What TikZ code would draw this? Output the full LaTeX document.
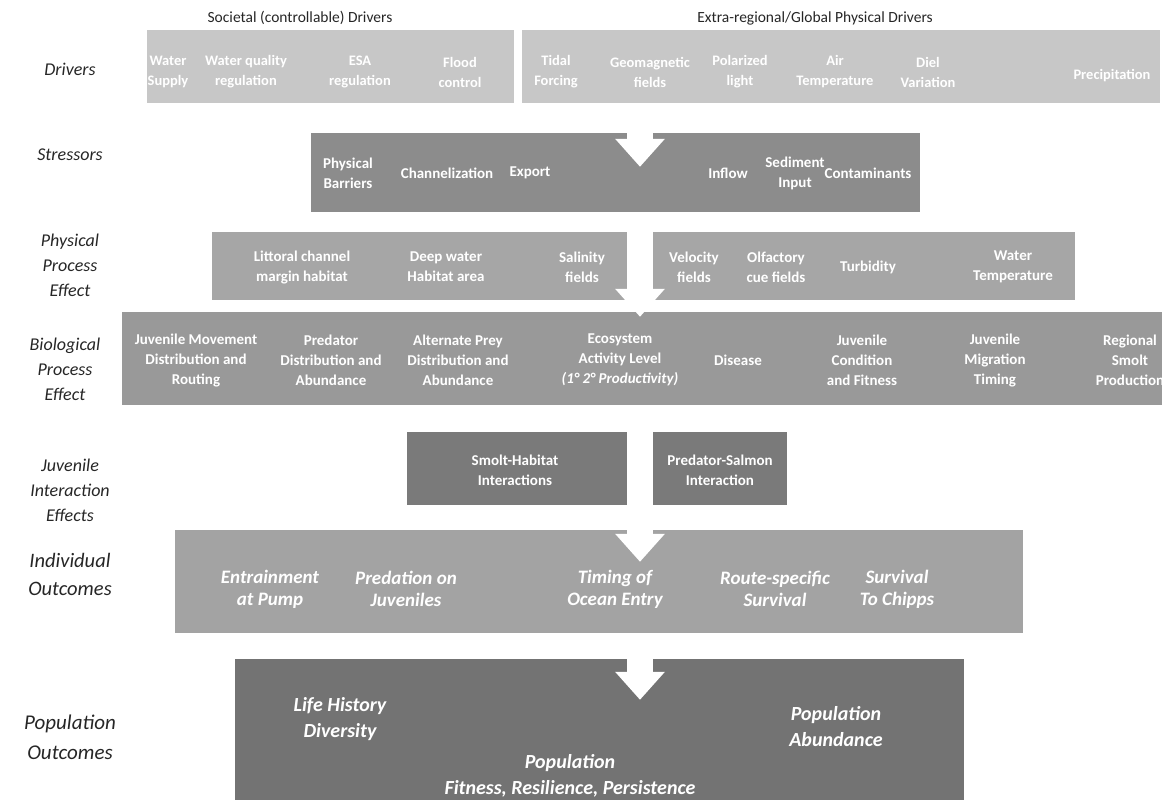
\documentclass[tikz,border=0pt]{standalone}
\usepackage{fontspec}
\setmainfont{Carlito}
\usetikzlibrary{arrows.meta}
\tikzset{
  rowlabel/.style={font=\fontsize{18}{25}\selectfont\itshape, text=black!85, align=center},
  bigrowlabel/.style={rowlabel, font=\fontsize{21}{30}\selectfont\itshape},
  header/.style={font=\fontsize{15.5}{17}\selectfont, text=black!85},
  panel/.style={rectangle, inner sep=0pt, draw=none},
  item/.style={font=\fontsize{15}{20}\selectfont\bfseries, text=white, align=center, inner sep=0pt},
  outcome/.style={item, font=\fontsize{19}{22}\selectfont\bfseries\itshape},
  popoutcome/.style={item, font=\fontsize{20}{26}\selectfont\bfseries\itshape},
  flow/.style={draw=white, line width=26pt, -{Triangle[width=48pt,length=28pt]}}
}

\begin{document}
\begin{tikzpicture}[x=1pt, y=-1pt]
  \useasboundingbox (0,0) rectangle (1162,807);

  % row labels
  \node[rowlabel] (lbldrv) at (70,69) {Drivers};
  \node[rowlabel] (lblstr) at (70,155) {Stressors};
  \node[rowlabel] (lblphys) at (70,265) {Physical\\Process\\Effect};
  \node[rowlabel] (lblbio) at (65,369) {Biological\\Process\\Effect};
  \node[rowlabel] (lbljuv) at (70,490) {Juvenile\\Interaction\\Effects};
  \node[bigrowlabel, font=\fontsize{20.5}{28}\selectfont\itshape] (lblind) at (70,574) {Individual\\Outcomes};
  \node[bigrowlabel] (lblpop) at (70,737) {Population\\Outcomes};

  % drivers
  \node[header] (hsoc) at (300,18) {Societal (controllable) Drivers};
  \node[header] (hext) at (815,18) {Extra-regional/Global Physical Drivers};
  \node[panel, fill=black!22, minimum width=367pt, minimum height=73pt] (drv1) at (330.5,66.5) {};
  \node[panel, fill=black!22, minimum width=638pt, minimum height=73pt] (drv2) at (841,66.5) {};
  \node[item, font=\fontsize{14.5}{20}\selectfont\bfseries] (supply) at (168,72) {Water\\Supply};
  \node[item, font=\fontsize{14.5}{20}\selectfont\bfseries] (quality) at (246,72) {Water quality\\regulation};
  \node[item, font=\fontsize{14.5}{20}\selectfont\bfseries] (esa) at (360,72) {ESA\\regulation};
  \node[item, font=\fontsize{14.5}{20}\selectfont\bfseries] (flood) at (460,72) {Flood\\control};
  \node[item, font=\fontsize{14.5}{20}\selectfont\bfseries] (tidal) at (556,72) {Tidal\\Forcing};
  \node[item, font=\fontsize{14.5}{20}\selectfont\bfseries] (geomag) at (650,72) {Geomagnetic\\fields};
  \node[item, font=\fontsize{14.5}{20}\selectfont\bfseries] (polar) at (740,72) {Polarized\\light};
  \node[item, font=\fontsize{14.5}{20}\selectfont\bfseries] (airtemp) at (835,72) {Air\\Temperature};
  \node[item, font=\fontsize{14.5}{20}\selectfont\bfseries] (diel) at (928,72) {Diel\\Variation};
  \node[item, font=\fontsize{14.5}{20}\selectfont\bfseries] (precip) at (1112,76) {Precipitation};

  % stressors
  \node[panel, fill=black!45, minimum width=609pt, minimum height=79pt] (stress) at (615.5,172.5) {};
  \node[item] (barrier) at (348,173) {Physical\\Barriers};
  \node[item] (channel) at (447,173) {Channelization};
  \node[item] (export) at (530,173) {Export};
  \node[item] (inflow) at (728,173) {Inflow};
  \node[item] (sediment) at (795,173) {Sediment\\Input};
  \node[item] (contam) at (868,173) {Contaminants};

  % physical process effect
  \node[panel, fill=black!35, minimum width=415pt, minimum height=68pt] (physA) at (419.5,266) {};
  \node[panel, fill=black!35, minimum width=422pt, minimum height=68pt] (physB) at (864,266) {};
  \node[item] (littoral) at (302,267) {Littoral channel\\margin habitat};
  \node[item] (deep) at (446,267) {Deep water\\Habitat area};
  \node[item] (salinity) at (582,267) {Salinity\\fields};
  \node[item] (velocity) at (694,267) {Velocity\\fields};
  \node[item] (olfact) at (776,267) {Olfactory\\cue fields};
  \node[item] (turbid) at (868,267) {Turbidity};
  \node[item] (wtemp) at (1013,267) {Water\\Temperature};

  % biological process effect
  \node[panel, fill=black!40, minimum width=1040pt, minimum height=93pt] (bio) at (642,358.5) {};
  \node[item] (movement) at (196,360) {Juvenile Movement\\Distribution and\\Routing};
  \node[item] (predator) at (331,360) {Predator\\Distribution and\\Abundance};
  \node[item] (prey) at (458,360) {Alternate Prey\\Distribution and\\Abundance};
  \node[item] (ecosys) at (620,360) {Ecosystem\\Activity Level\\{\itshape(1° 2° Productivity)}};
  \node[item] (disease) at (738,360) {Disease};
  \node[item] (condition) at (862,360) {Juvenile\\Condition\\and Fitness};
  \node[item] (migration) at (995,360) {Juvenile\\Migration\\Timing};
  \node[item] (smoltprod) at (1130,360) {Regional\\Smolt\\Production};

  % juvenile interaction effects
  \node[panel, fill=black!52, minimum width=220pt, minimum height=73pt] (smolt) at (517,468.5) {};
  \node[panel, fill=black!52, minimum width=134pt, minimum height=73pt] (predsal) at (720,468.5) {};
  \node[item] (smolthab) at (515,470) {Smolt-Habitat\\Interactions};
  \node[item] (predsalint) at (720,470) {Predator-Salmon\\Interaction};

  % individual outcomes
  \node[panel, fill=black!36, minimum width=848pt, minimum height=103pt] (indiv) at (599,581.5) {};
  \node[outcome] (entrain) at (270,589) {Entrainment\\at Pump};
  \node[outcome] (predation) at (406,589) {Predation on\\Juveniles};
  \node[outcome] (ocean) at (615,589) {Timing of\\Ocean Entry};
  \node[outcome] (route) at (775,589) {Route-specific\\Survival};
  \node[outcome] (chipps) at (897,589) {Survival\\To Chipps};

  % population outcomes
  \node[panel, fill=black!55, minimum width=729pt, minimum height=141pt] (pop) at (599.5,729.5) {};
  \node[popoutcome] (lifehist) at (340,719) {Life History\\Diversity};
  \node[popoutcome] (abund) at (836,727) {Population\\Abundance};
  \node[popoutcome] (fitness) at (570,776) {Population\\Fitness, Resilience, Persistence};

  % white flow arrows
  \coordinate (spine) at (640,0);
  \draw[flow] (spine |- drv2.south) -- ([yshift=-34pt]spine |- stress.north);
  \draw[flow] (spine |- stress.south) -- ([yshift=-5pt]spine |- bio.north);
  \draw[flow] (spine |- bio.south) -- ([yshift=-32pt]spine |- indiv.north);
  \draw[flow] (spine |- indiv.south) -- ([yshift=-41pt]spine |- pop.north);
\end{tikzpicture}
\end{document}
